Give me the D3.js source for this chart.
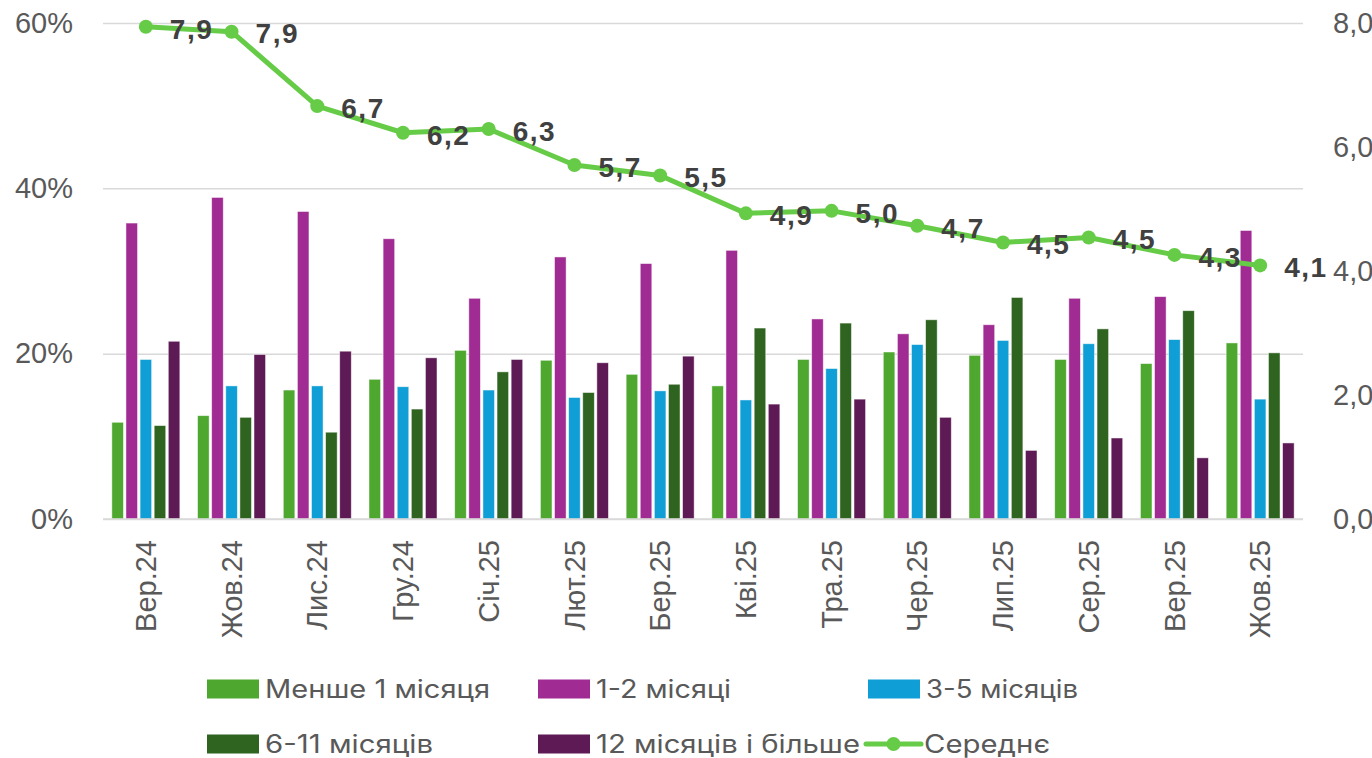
<!DOCTYPE html>
<html>
<head>
<meta charset="utf-8">
<script src="https://cdn.jsdelivr.net/npm/d3@7"></script>
<style>
  html, body { margin: 0; padding: 0; background: #fff; }
  svg { display: block; }
</style>
</head>
<body>
<svg id="chart" width="1372" height="758"></svg>
<script>
// ---- data ----
const categories = ["Вер.24","Жов.24","Лис.24","Гру.24","Січ.25","Лют.25","Бер.25","Кві.25","Тра.25","Чер.25","Лип.25","Сер.25","Вер.25","Жов.25"];
const seriesNames = ["Менше 1 місяця","1-2 місяці","3-5 місяців","6-11 місяців","12 місяців і більше"];
const lessThan1 = [11.7,12.5,15.6,16.9,20.4,19.2,17.5,16.1,19.3,20.2,19.8,19.3,18.8,21.3];
const m1to2     = [35.8,38.9,37.2,33.9,26.7,31.7,30.9,32.5,24.2,22.4,23.5,26.7,26.9,34.9];
const m3to5     = [19.3,16.1,16.1,16.0,15.6,14.7,15.5,14.4,18.2,21.1,21.6,21.2,21.7,14.5];
const m6to11    = [11.3,12.3,10.5,13.3,17.8,15.3,16.3,23.1,23.7,24.1,26.8,23.0,25.2,20.1];
const m12plus   = [21.5,19.9,20.3,19.5,19.3,18.9,19.7,13.9,14.5,12.3,8.3,9.8,7.4,9.2];
const averageName = "Середнє";
const average   = [7.94,7.86,6.66,6.23,6.29,5.71,5.54,4.93,4.97,4.73,4.46,4.54,4.26,4.09];
const leftTicks  = [0,20,40,60];
const rightTicks = [0,2,4,6,8];

const seriesValues = [lessThan1, m1to2, m3to5, m6to11, m12plus];
const colors = ["#4EA72E","#A02B93","#0F9ED5","#2F6420","#5E1A55"];
const lineColor = "#66CC47";

// ---- layout ----
const svg = d3.select("#chart");
const plotL = 103, plotR = 1303, plotT = 23, plotB = 519;
const axisFont = "'Liberation Sans', Arial, sans-serif";

const x0 = d3.scaleBand().domain(categories).range([plotL, plotR])
  .paddingInner(0.2067).paddingOuter(0.1033);
const x1 = d3.scaleBand().domain(d3.range(seriesNames.length)).range([0, x0.bandwidth()])
  .paddingInner(0.18);
const yL = d3.scaleLinear().domain([0, 60]).range([plotB, plotT]);
const yR = d3.scaleLinear().domain([0, 8]).range([plotB, plotT]);

// gridlines + left axis
const leftAxis = svg.append("g")
  .attr("transform", `translate(${plotL},0)`)
  .call(d3.axisLeft(yL).tickValues(leftTicks).tickSize(-(plotR - plotL)).tickPadding(30)
    .tickFormat(d => d + "%"));
leftAxis.select(".domain").remove();
leftAxis.selectAll(".tick line").attr("stroke", "#D9D9D9").attr("stroke-width", 1.5);
leftAxis.selectAll(".tick text")
  .attr("font-family", axisFont).attr("font-size", 29).attr("fill", "#595959");

// right axis
const rightAxis = svg.append("g")
  .attr("transform", `translate(${plotR},0)`)
  .call(d3.axisRight(yR).tickValues(rightTicks).tickSize(0).tickPadding(30)
    .tickFormat(d => d3.format(".1f")(d).replace(".", ",")));
rightAxis.select(".domain").remove();
rightAxis.selectAll(".tick text")
  .attr("font-family", axisFont).attr("font-size", 29).attr("fill", "#595959");

// bars
const barData = [];
categories.forEach((c, i) => {
  seriesValues.forEach((arr, s) => barData.push({ c, s, v: arr[i] }));
});
svg.append("g").selectAll("rect").data(barData).join("rect")
  .attr("x", d => x0(d.c) + x1(d.s))
  .attr("y", d => yL(d.v))
  .attr("width", x1.bandwidth())
  .attr("height", d => yL(0) - yL(d.v))
  .attr("fill", d => colors[d.s])
  .attr("stroke", "#ffffff").attr("stroke-opacity", 0.6).attr("stroke-width", 0.8);

// bottom axis
const bottomAxis = svg.append("g")
  .attr("transform", `translate(0,${plotB})`)
  .call(d3.axisBottom(x0).tickSize(0).tickPadding(0));
bottomAxis.select(".domain").attr("stroke", "#D9D9D9").attr("stroke-width", 1.5)
  .attr("d", `M${plotL},0H${plotR}`);
bottomAxis.selectAll(".tick text")
  .attr("font-family", axisFont).attr("font-size", 29).attr("fill", "#595959")
  .attr("text-anchor", "end")
  .attr("transform", "rotate(-90)")
  .attr("x", -21).attr("y", 0).attr("dy", "0.35em");

// line
const cx = c => x0(c) + x0.bandwidth() / 2;
const lineGen = d3.line().x((d, i) => cx(categories[i])).y(d => yR(d));
svg.append("path").datum(average)
  .attr("d", lineGen).attr("fill", "none")
  .attr("stroke", lineColor).attr("stroke-width", 5).attr("stroke-linejoin", "round");
svg.append("g").selectAll("circle").data(average).join("circle")
  .attr("cx", (d, i) => cx(categories[i])).attr("cy", d => yR(d))
  .attr("r", 7).attr("fill", lineColor);
svg.append("g").selectAll("text").data(average).join("text")
  .attr("x", (d, i) => cx(categories[i]) + 24)
  .attr("y", d => yR(d) + 2)
  .attr("dy", "0.35em")
  .attr("font-family", axisFont).attr("font-weight", "bold").attr("font-size", 28)
  .attr("letter-spacing", 1.5)
  .attr("fill", "#404040")
  .text(d => d3.format(".1f")(d).replace(".", ","));

// legend
const legendFont = "Inter, 'Liberation Sans', sans-serif";
const legendItems = [
  { name: seriesNames[0], color: colors[0], x: 207, y: 689, w: 225, type: "rect" },
  { name: seriesNames[1], color: colors[1], x: 538, y: 689, w: 135, type: "rect" },
  { name: seriesNames[2], color: colors[2], x: 868, y: 689, w: 152, type: "rect" },
  { name: seriesNames[3], color: colors[3], x: 207, y: 744, w: 168, type: "rect" },
  { name: seriesNames[4], color: colors[4], x: 538, y: 744, w: 264, type: "rect" },
  { name: averageName,    color: lineColor, x: 866, y: 744, w: 126, type: "line" }
];
const lg = svg.append("g");
legendItems.forEach(it => {
  if (it.type === "rect") {
    lg.append("rect").attr("x", it.x).attr("y", it.y - 9.5).attr("width", 52).attr("height", 19)
      .attr("fill", it.color);
  } else {
    lg.append("line").attr("x1", it.x).attr("x2", it.x + 55).attr("y1", it.y).attr("y2", it.y)
      .attr("stroke", it.color).attr("stroke-width", 5).attr("stroke-linecap", "round");
    lg.append("circle").attr("cx", it.x + 27.5).attr("cy", it.y).attr("r", 7).attr("fill", it.color);
  }
  lg.append("text").attr("x", it.x + 58).attr("y", it.y).attr("dy", "0.36em")
    .attr("font-family", legendFont).attr("font-size", 25).attr("fill", "#595959")
    .attr("textLength", it.w).attr("lengthAdjust", "spacingAndGlyphs")
    .text(it.name);
});
</script>
</body>
</html>
